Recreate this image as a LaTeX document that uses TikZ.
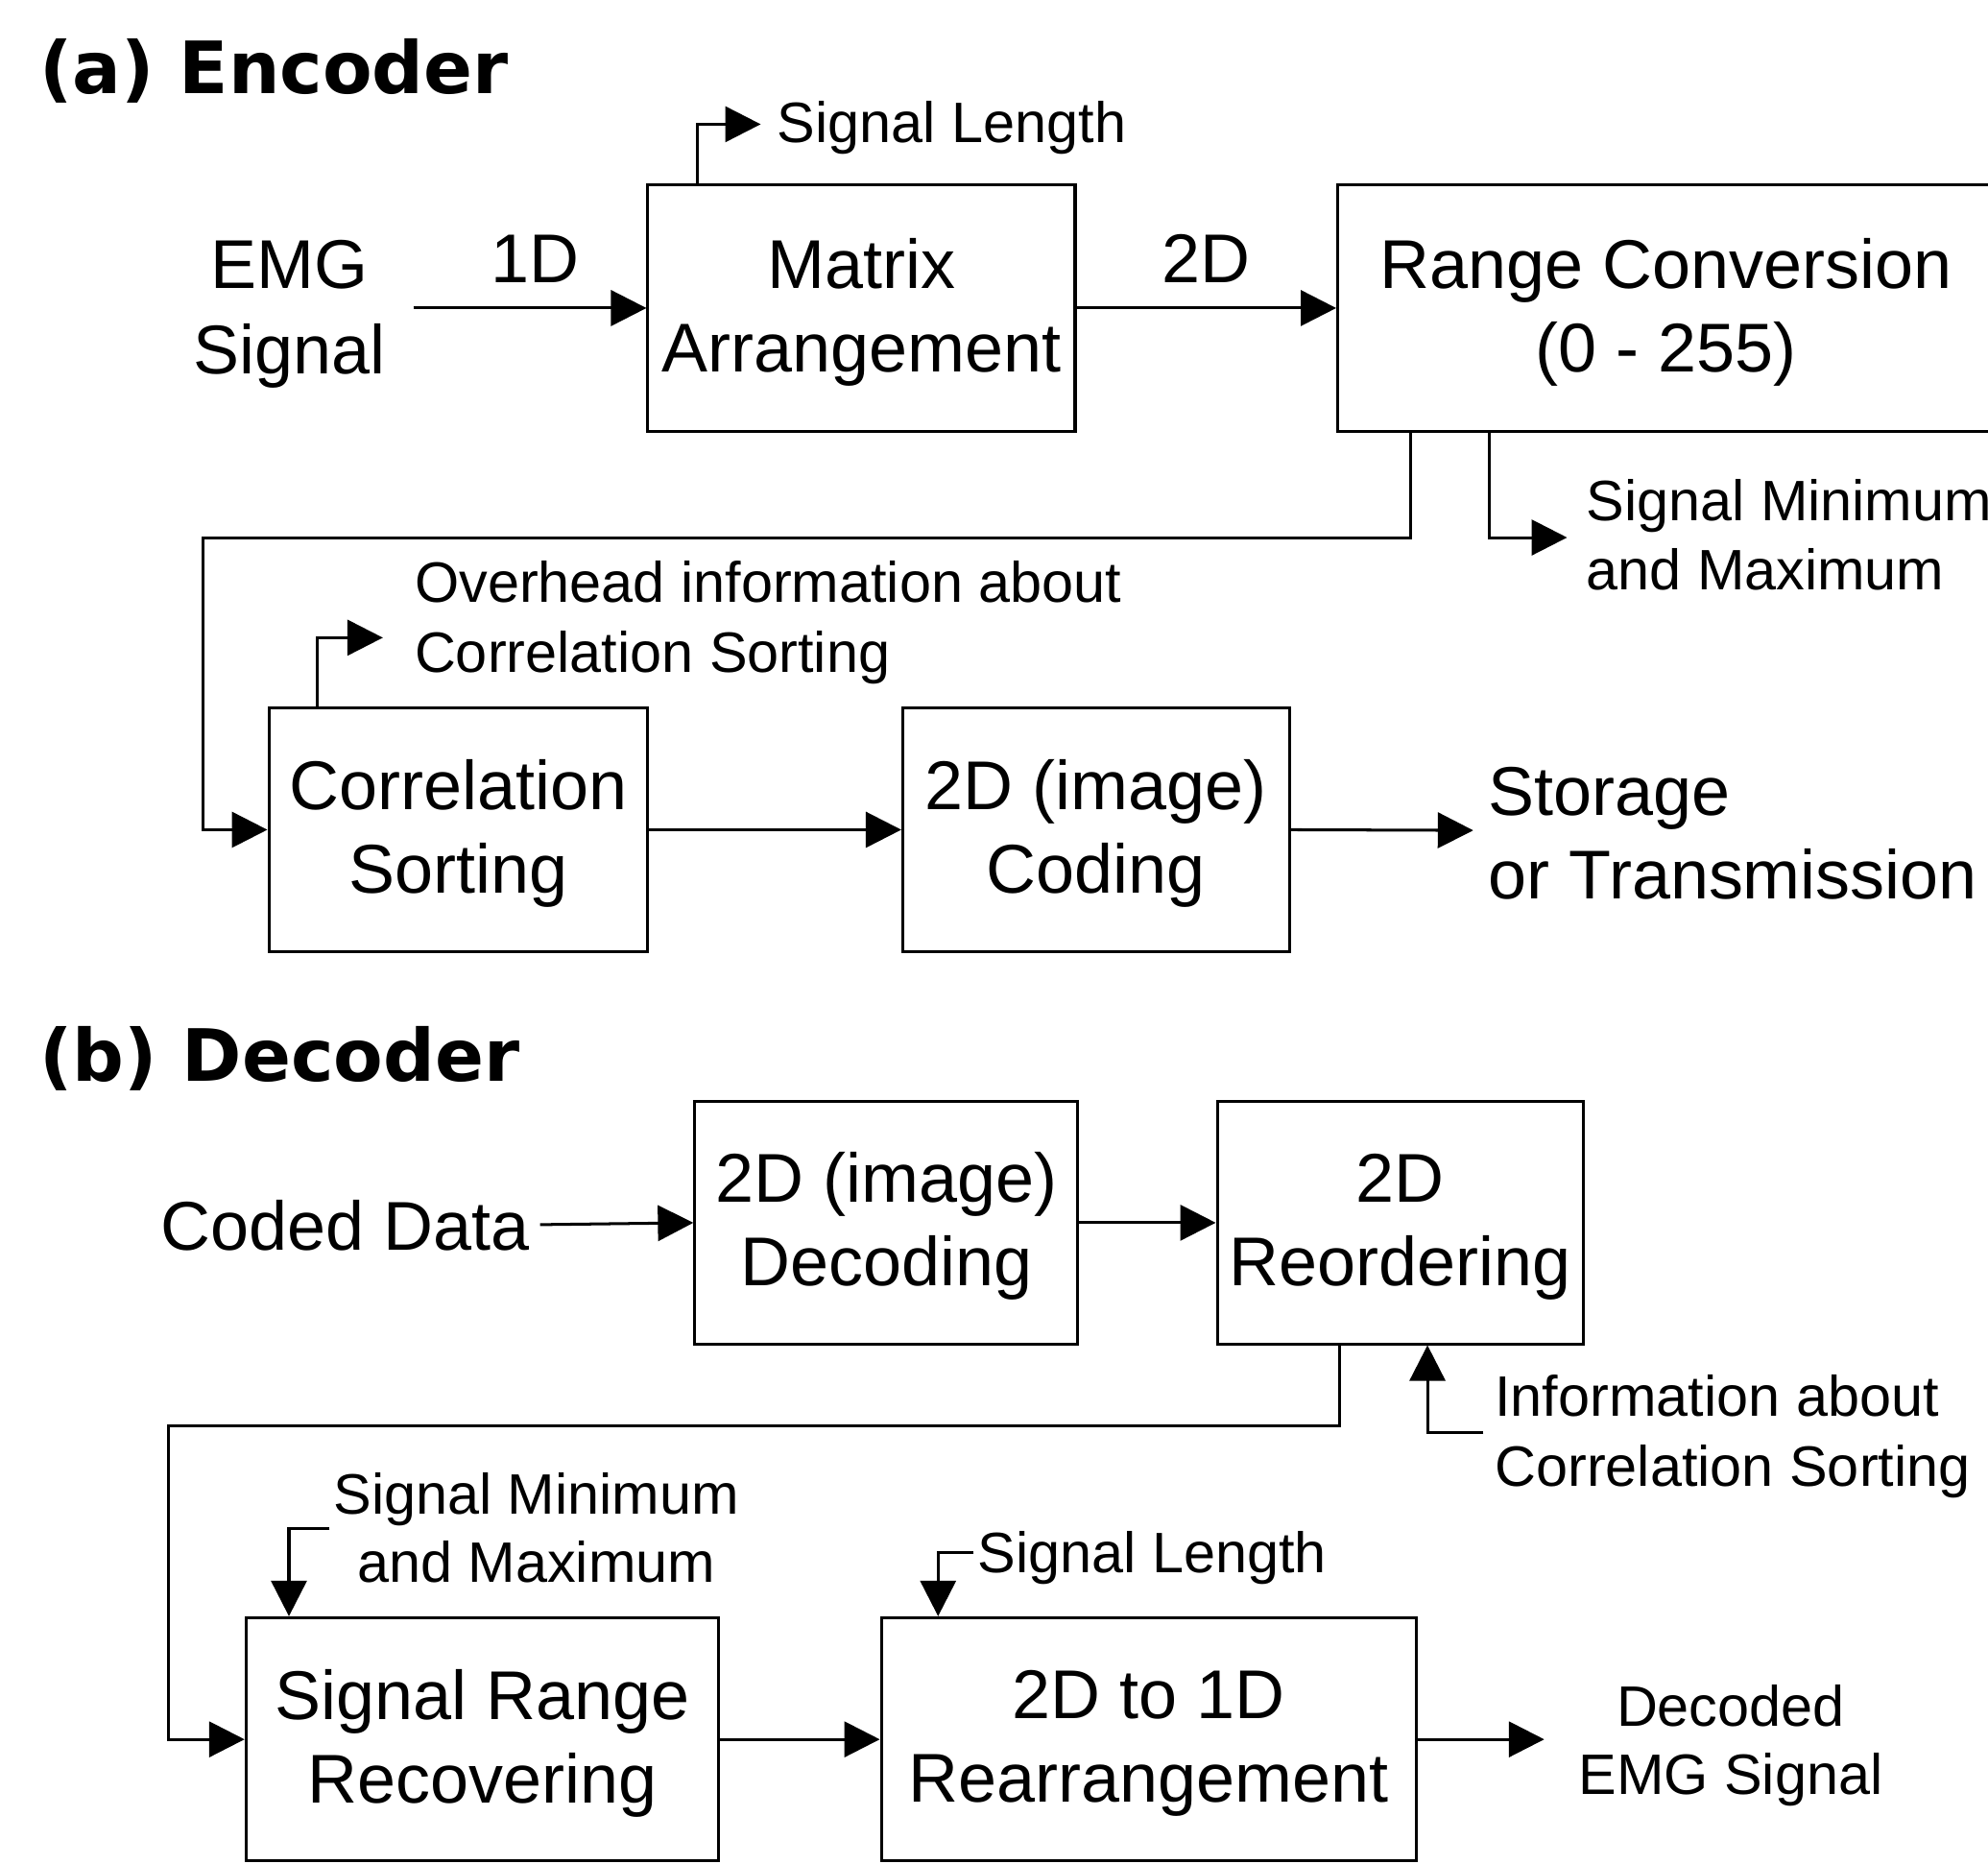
\documentclass[tikz,border=0pt]{standalone}
\usepackage{fontspec}
\setmainfont{Liberation Sans}
\newfontfamily\ttlfont{DejaVu Sans}
\usetikzlibrary{arrows.meta,calc}
\begin{document}
\begin{tikzpicture}[x=0.02cm,y=-0.02cm,line width=1.3pt,
  arr/.style={-{Triangle[length=0.56cm,width=0.56cm]}},
  big/.style={font=\fontsize{31}{37.5}\selectfont},
  small/.style={font=\fontsize{25.6}{31.3}\selectfont},
  blk/.style={draw,inner sep=0pt},
  lbl/.style={inner sep=0pt,align=left,small},
  txt/.style={inner sep=0pt,align=center,big},
  ttl/.style={inner sep=0pt,anchor=base west,font=\ttlfont\bfseries\fontsize{32.4}{39}\selectfont}]
\useasboundingbox (0,0) rectangle (1568,1470);
\fill[white] (0,0) rectangle (1568,1470);
% ---------- Encoder ----------
\node[ttl] (ta) at (30,74) {(a) Encoder};
\node[txt,font=\fontsize{31}{38.5}\selectfont] (emg) at (228,248) {EMG\\Signal};
\node[txt] (l1d) at (422,204) {1D};
\node[txt] (l2d) at (951,204) {2D};
\node[blk,minimum width=6.74cm,minimum height=3.88cm] (matrix) at (679.5,243) {};
\node[txt] (matrixT) at ($(matrix.center)+(0,3)$) {Matrix\\Arrangement};
\node[blk,minimum width=10.36cm,minimum height=3.88cm] (range) at (1314,243) {};
\node[txt] (rangeT) at ($(range.center)+(0,3)$) {Range Conversion\\(0 - 255)};
\node[lbl,anchor=west] (sl) at (612,101) {Signal Length};
\coordinate (slTip) at (600,98);
\node[lbl,anchor=west] (smm) at (1250,422) {Signal Minimum\\and Maximum};
\coordinate (smTip) at (1236,424);
\node[lbl,anchor=west] (ov) at (326,491) {Overhead information about\\Correlation Sorting};
\coordinate (ovTip) at (302,503);
\node[blk,minimum width=5.98cm,minimum height=3.86cm] (corr) at (361.5,654.5) {};
\node[txt] (corrT) at ($(corr.center)+(0,3)$) {Correlation\\Sorting};
\node[blk,minimum width=6.1cm,minimum height=3.86cm] (coding) at (864.5,654.5) {};
\node[txt] (codingT) at ($(coding.center)+(0,3)$) {2D (image)\\Coding};
\node[txt,align=left,anchor=west] (st) at (1173,657) {Storage\\or Transmission};
\coordinate (stTip) at (1162,655);
\coordinate (emgOut) at (326,243);
\coordinate (e1) at (160,424);
\draw[arr] (emgOut) -- (matrix.west);
\draw[arr] (matrix.east) -- (range.west);
\draw[arr] ($(matrix.north west)+(40,0)$) |- (slTip);
\draw[arr] ($(range.south west)+(59,0)$) |- (e1) |- (corr.west);
\draw[arr] ($(range.south west)+(121,0)$) |- (smTip);
\draw[arr] ($(corr.north west)+(39,0)$) |- (ovTip);
\draw[arr] (corr.east) -- (coding.west);
\draw[arr] (coding.east) -- (stTip);
% ---------- Decoder ----------
\node[ttl] (tb) at (30,853) {(b) Decoder};
\node[txt,anchor=west] (cd) at (126,967) {Coded Data};
\coordinate (cdOut) at (426,966);
\node[blk,minimum width=6.04cm,minimum height=3.82cm] (dec) at (699,964.5) {};
\node[txt] (decT) at ($(dec.center)+(0,3)$) {2D (image)\\Decoding};
\node[blk,minimum width=5.78cm,minimum height=3.82cm] (reo) at (1104.5,964.5) {};
\node[txt] (reoT) at ($(reo.center)+(0,3)$) {2D\\Reordering};
\node[lbl,anchor=west] (info) at (1178,1133) {Information about\\Correlation Sorting};
\coordinate (infoStart) at (1170,1130);
\coordinate (d1) at (133,1125);
\node[lbl,align=center,font=\fontsize{25.6}{30.7}\selectfont] (smm2) at (423,1205) {Signal Minimum\\and Maximum};
\coordinate (smStart) at (260,1206);
\node[lbl,anchor=west] (sl2) at (770,1229) {Signal Length};
\coordinate (slStart) at (768,1225);
\node[blk,minimum width=7.46cm,minimum height=3.84cm] (sr) at (380.5,1372) {};
\node[txt] (srT) at ($(sr.center)+(0,3)$) {Signal Range\\Recovering};
\node[blk,minimum width=8.44cm,minimum height=3.84cm] (rr) at (906,1372) {};
\node[txt] (rrT) at ($(rr.center)+(0,3)$) {2D to 1D\\Rearrangement};
\node[lbl,align=center,font=\fontsize{25.6}{30.7}\selectfont] (deco) at (1365,1377) {Decoded\\EMG Signal};
\coordinate (outTip) at (1218,1372);
\draw[arr] (cdOut) -- (dec.west);
\draw[arr] (dec.east) -- (reo.west);
\draw[arr] (infoStart) -| ($(reo.south west)+(167,0)$);
\draw[arr] ($(reo.south west)+(98,0)$) |- (d1) |- (sr.west);
\draw[arr] (smStart) -| ($(sr.north west)+(35,0)$);
\draw[arr] (sr.east) -- (rr.west);
\draw[arr] (slStart) -| ($(rr.north west)+(46,0)$);
\draw[arr] (rr.east) -- (outTip);
\end{tikzpicture}
\end{document}
